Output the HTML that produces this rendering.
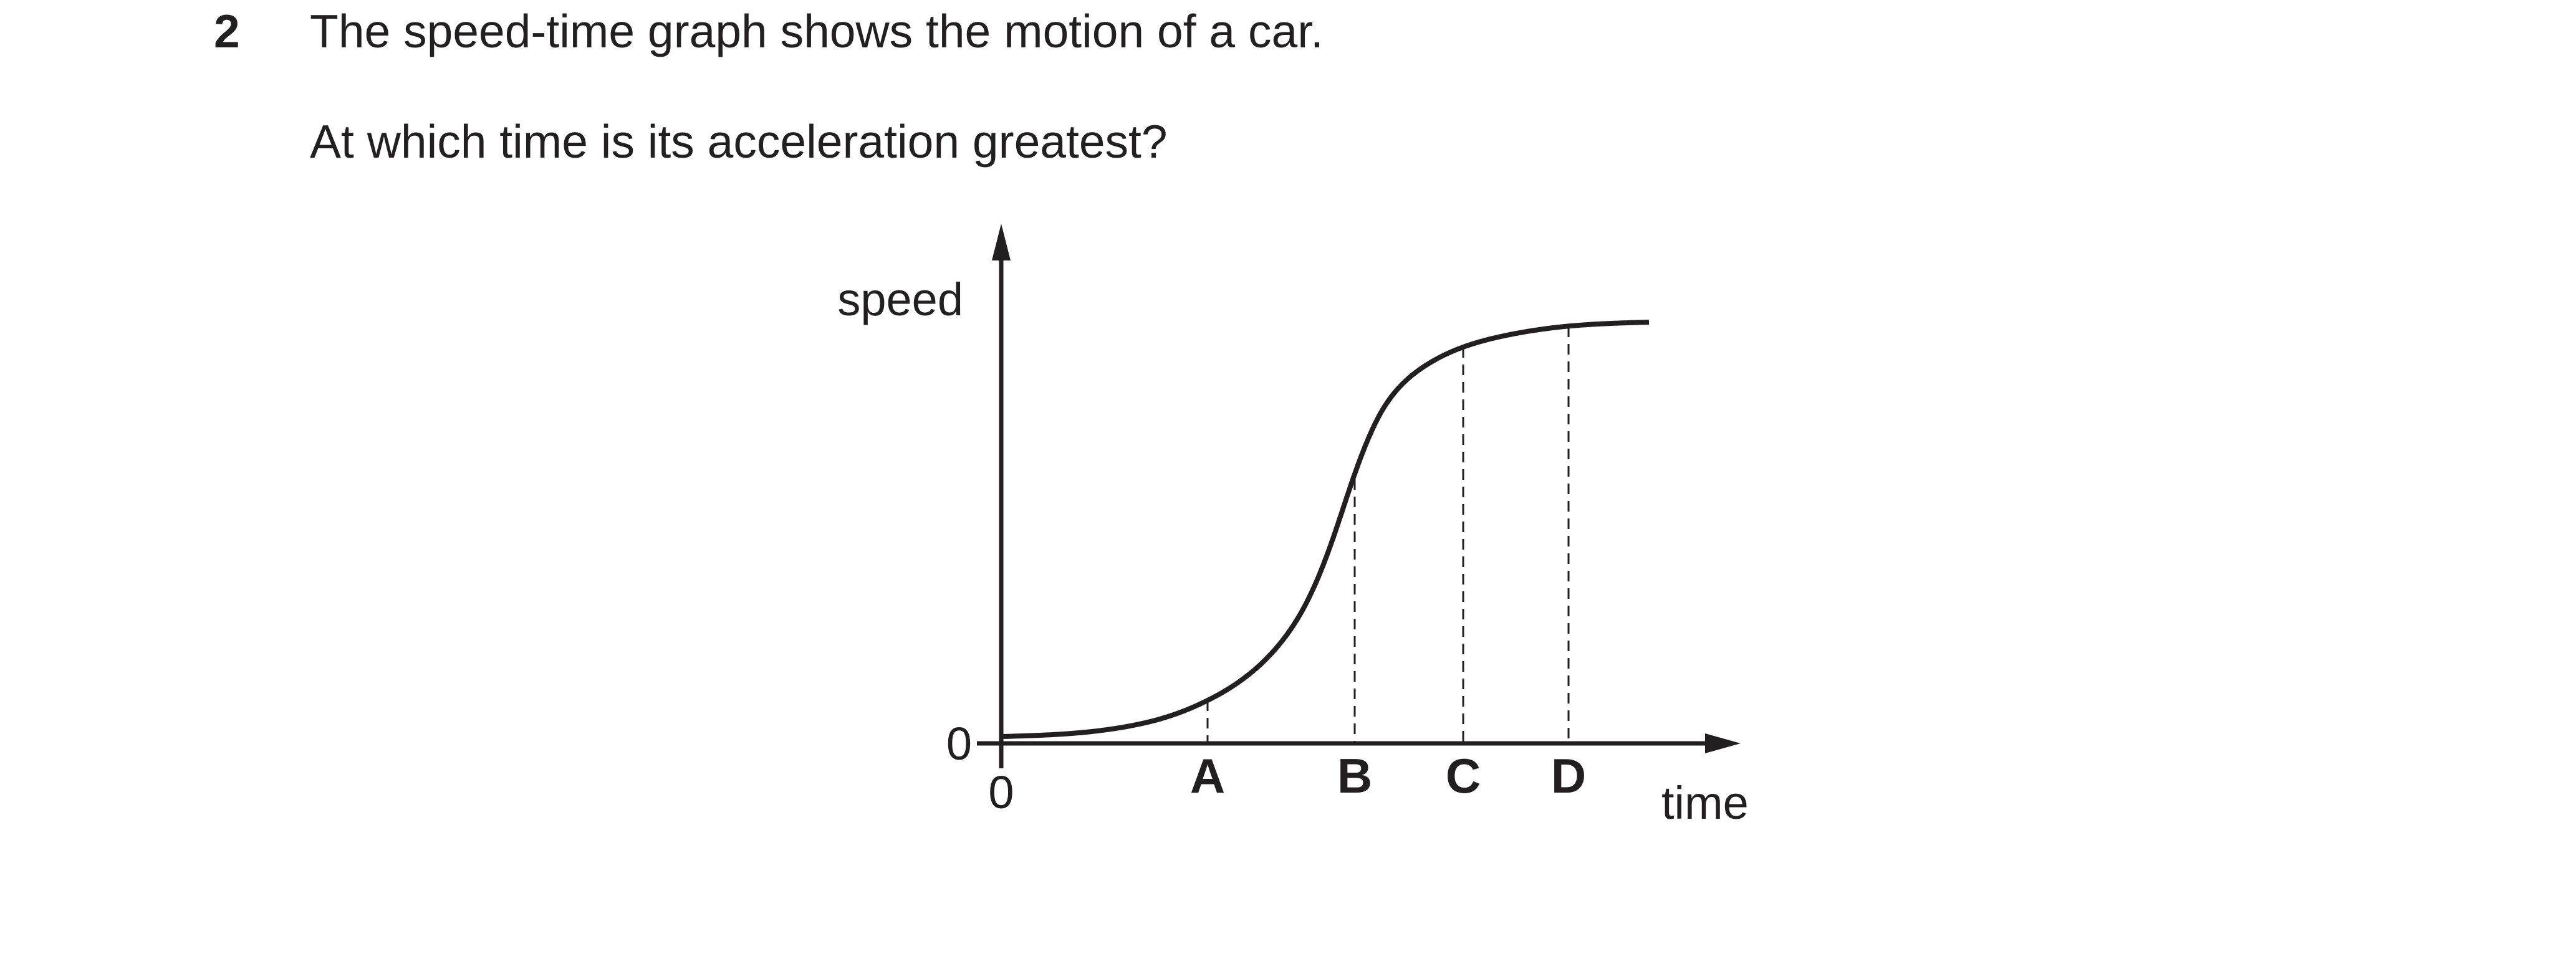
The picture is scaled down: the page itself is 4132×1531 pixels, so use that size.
<!DOCTYPE html>
<html><head><meta charset="utf-8"><style>
html,body{margin:0;padding:0;background:#fff;}
body{width:4132px;height:1526px;overflow:hidden;position:relative;font-family:"Liberation Sans",Arial,sans-serif;color:#231f20;}
svg text{font-family:"Liberation Sans",Arial,sans-serif;fill:#231f20;}
</style></head><body>
<svg id="chart" width="4132" height="1526" viewBox="0 0 4132 1526" xmlns="http://www.w3.org/2000/svg">
<text x="343" y="76" font-size="75" font-weight="bold">2</text>
<text x="497" y="76" font-size="75">The speed-time graph shows the motion of a car.</text>
<text x="497" y="253" font-size="75">At which time is its acceleration greatest?</text>
<g id="plot"></g>
</svg>
<script>
const times = [0.1, 9.9, 20.4, 27.5, 33.1, 39, 44.7, 48.5, 51.6, 53.9, 56.2, 58.5, 60.8, 63.8, 67.7, 74.1, 81.1, 89.4, 103.9];
const speeds = [1.1, 1.5, 2.75, 4.55, 6.9, 10.5, 16.0, 21.7, 28.5, 34.9, 41.8, 48.0, 52.9, 57.1, 60.4, 63.6, 65.5, 66.8, 67.6];
const markerLabels = ["A", "B", "C", "D"];
const markerTimes = [33.1, 56.7, 74.1, 91.0];
const markerSpeeds = [6.9, 42.4, 63.6, 66.9];

const X0 = 1606, Y0 = 1193;
function xs(t){ return X0 + t*10; }
function ys(v){ return Y0 - v*10; }
const NS = "http://www.w3.org/2000/svg";
const g = document.getElementById('plot');
function mk(tag, attrs){ const e=document.createElementNS(NS,tag); for(const k in attrs) e.setAttribute(k,attrs[k]); g.appendChild(e); return e; }

markerTimes.forEach((t,i)=>{
  const l = mk('line',{x1:xs(t),x2:xs(t),y1:ys(markerSpeeds[i]),y2:Y0,stroke:'#231f20','stroke-width':3,'stroke-dasharray':'17 11'});
  
  
  const tx = mk('text',{x:xs(t),y:1272,'font-size':78,'font-weight':'bold','text-anchor':'middle'});
  tx.textContent = markerLabels[i];
  
  
});

const xa = mk('line',{x1:1567,y1:Y0,x2:2740,y2:Y0,stroke:'#231f20','stroke-width':7});


const xh = mk('polygon',{points:'2792,'+Y0+' 2735,'+(Y0-16)+' 2735,'+(Y0+16),fill:'#231f20'});


const ya = mk('line',{x1:X0,y1:1233,x2:X0,y2:410,stroke:'#231f20','stroke-width':7});


const yh = mk('polygon',{points:X0+',359 '+(X0-15)+',418 '+(X0+15)+',418',fill:'#231f20'});



// natural cubic spline through data points, sampled densely
const n = times.length;
const h = [], al = [], l = [1], mu = [0], z = [0], c = new Array(n).fill(0), b = [], dd = [];
for(let i=0;i<n-1;i++) h.push(times[i+1]-times[i]);
for(let i=1;i<n-1;i++) al[i] = 3/h[i]*(speeds[i+1]-speeds[i]) - 3/h[i-1]*(speeds[i]-speeds[i-1]);
for(let i=1;i<n-1;i++){ l[i]=2*(times[i+1]-times[i-1])-h[i-1]*mu[i-1]; mu[i]=h[i]/l[i]; z[i]=(al[i]-h[i-1]*z[i-1])/l[i]; }
l[n-1]=1; z[n-1]=0;
for(let j=n-2;j>=0;j--){ c[j]=z[j]-mu[j]*c[j+1]; b[j]=(speeds[j+1]-speeds[j])/h[j]-h[j]*(c[j+1]+2*c[j])/3; dd[j]=(c[j+1]-c[j])/(3*h[j]); }
let d = 'M'+xs(times[0]).toFixed(1)+','+ys(speeds[0]).toFixed(1);
for(let j=0;j<n-1;j++){
  const steps = 20;
  for(let k=1;k<=steps;k++){
    const s = h[j]*k/steps;
    const v = speeds[j]+b[j]*s+c[j]*s*s+dd[j]*s*s*s;
    d += ' L'+xs(times[j]+s).toFixed(1)+','+ys(v).toFixed(1);
  }
}
const curve = mk('path',{d:d,fill:'none',stroke:'#231f20','stroke-width':8,'stroke-linecap':'butt','stroke-linejoin':'round'});



function label(txt,x,y,anchor,name){
  const t = mk('text',{x:x,y:y,'font-size':74,'text-anchor':anchor});
  t.textContent = txt;
  
  
}
label('speed',1545,506,'end','y-axis-title');
label('time',2665,1314,'start','x-axis-title');
label('0',1559,1219,'end','y-origin-label');
label('0',X0,1297,'middle','x-origin-label');
</script>
</body></html>
